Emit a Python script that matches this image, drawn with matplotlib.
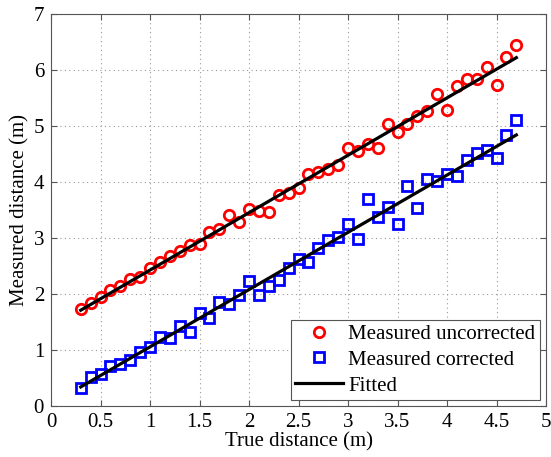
import numpy as np
import matplotlib
matplotlib.use('Agg')
import matplotlib.pyplot as plt

# True distance (m)
true_dist = [0.3, 0.4, 0.5, 0.6, 0.7, 0.8, 0.9, 1.0, 1.1, 1.2,
             1.3, 1.4, 1.5, 1.6, 1.7, 1.8, 1.9, 2.0, 2.1, 2.2,
             2.3, 2.4, 2.5, 2.6, 2.7, 2.8, 2.9, 3.0, 3.1, 3.2,
             3.3, 3.4, 3.5, 3.6, 3.7, 3.8, 3.9, 4.0, 4.1, 4.2,
             4.3, 4.4, 4.5, 4.6, 4.7]

# Measured distance, uncorrected
meas_uncorrected = [1.74, 1.84, 1.95, 2.07, 2.14, 2.26, 2.31, 2.46, 2.57, 2.68,
                    2.77, 2.87, 2.90, 3.10, 3.16, 3.41, 3.28, 3.51, 3.48, 3.46,
                    3.77, 3.81, 3.90, 4.14, 4.18, 4.23, 4.31, 4.60, 4.55, 4.68,
                    4.61, 5.04, 4.89, 5.04, 5.17, 5.26, 5.57, 5.29, 5.71, 5.84,
                    5.84, 6.06, 5.74, 6.24, 6.45]

# Measured distance, corrected
meas_corrected = [0.33, 0.52, 0.57, 0.71, 0.75, 0.82, 0.96, 1.06, 1.24, 1.21,
                  1.42, 1.33, 1.66, 1.58, 1.86, 1.82, 1.98, 2.23, 1.98, 2.14,
                  2.25, 2.47, 2.63, 2.57, 2.83, 2.96, 3.02, 3.25, 2.98, 3.69,
                  3.38, 3.55, 3.25, 3.93, 3.53, 4.05, 4.01, 4.14, 4.11, 4.40,
                  4.52, 4.58, 4.42, 4.84, 5.11]

# Fitted line end points
fit_x = [0.3, 4.7]
fit_uncorrected = [1.71, 6.22]
fit_corrected = [0.34, 4.84]

plt.rcParams['font.family'] = ['Liberation Serif', 'DejaVu Serif']
plt.rcParams['font.size'] = 15

fig = plt.figure(figsize=(5.51, 4.57), dpi=100)
ax = fig.add_axes([0.0926, 0.1116, 0.8984, 0.8578])

ax.plot(true_dist, meas_uncorrected, 'o', color='red', markerfacecolor='none',
        markeredgewidth=2.0, markersize=7.5, label='Measured uncorrected')
ax.plot(true_dist, meas_corrected, 's', color='blue', markerfacecolor='none',
        markeredgewidth=2.0, markersize=6.5, label='Measured corrected')
ax.plot(fit_x, fit_uncorrected, '-', color='black', linewidth=2.3, label='Fitted')
ax.plot(fit_x, fit_corrected, '-', color='black', linewidth=2.3)

ax.set_xlim(0, 5)
ax.set_ylim(0, 7)
ax.set_xticks(np.arange(0, 5.01, 0.5))
ax.set_xticklabels(['0', '0.5', '1', '1.5', '2', '2.5', '3', '3.5', '4', '4.5', '5'])
ax.set_yticks(range(0, 8))

ax.grid(True, linestyle=(0, (1, 3)), color='#999999', linewidth=0.8)
ax.tick_params(direction='in', length=4, top=True, right=True, pad=5,
               color='#555555', labelsize=15)
for s in ax.spines.values():
    s.set_color('#555555')
    s.set_linewidth(0.8)

ax.set_xlabel('True distance (m)', fontsize=15, labelpad=0)
ax.set_ylabel('Measured distance (m)', fontsize=15, labelpad=3)

leg = ax.legend(loc='lower right', fontsize=15, numpoints=1, handlelength=2.3,
                borderaxespad=0.3, fancybox=False, framealpha=1,
                edgecolor='#555555', borderpad=0.2, labelspacing=0.3,
                handletextpad=0.25)
leg.get_frame().set_linewidth(0.8)

fig.savefig('out.png', dpi=100)
